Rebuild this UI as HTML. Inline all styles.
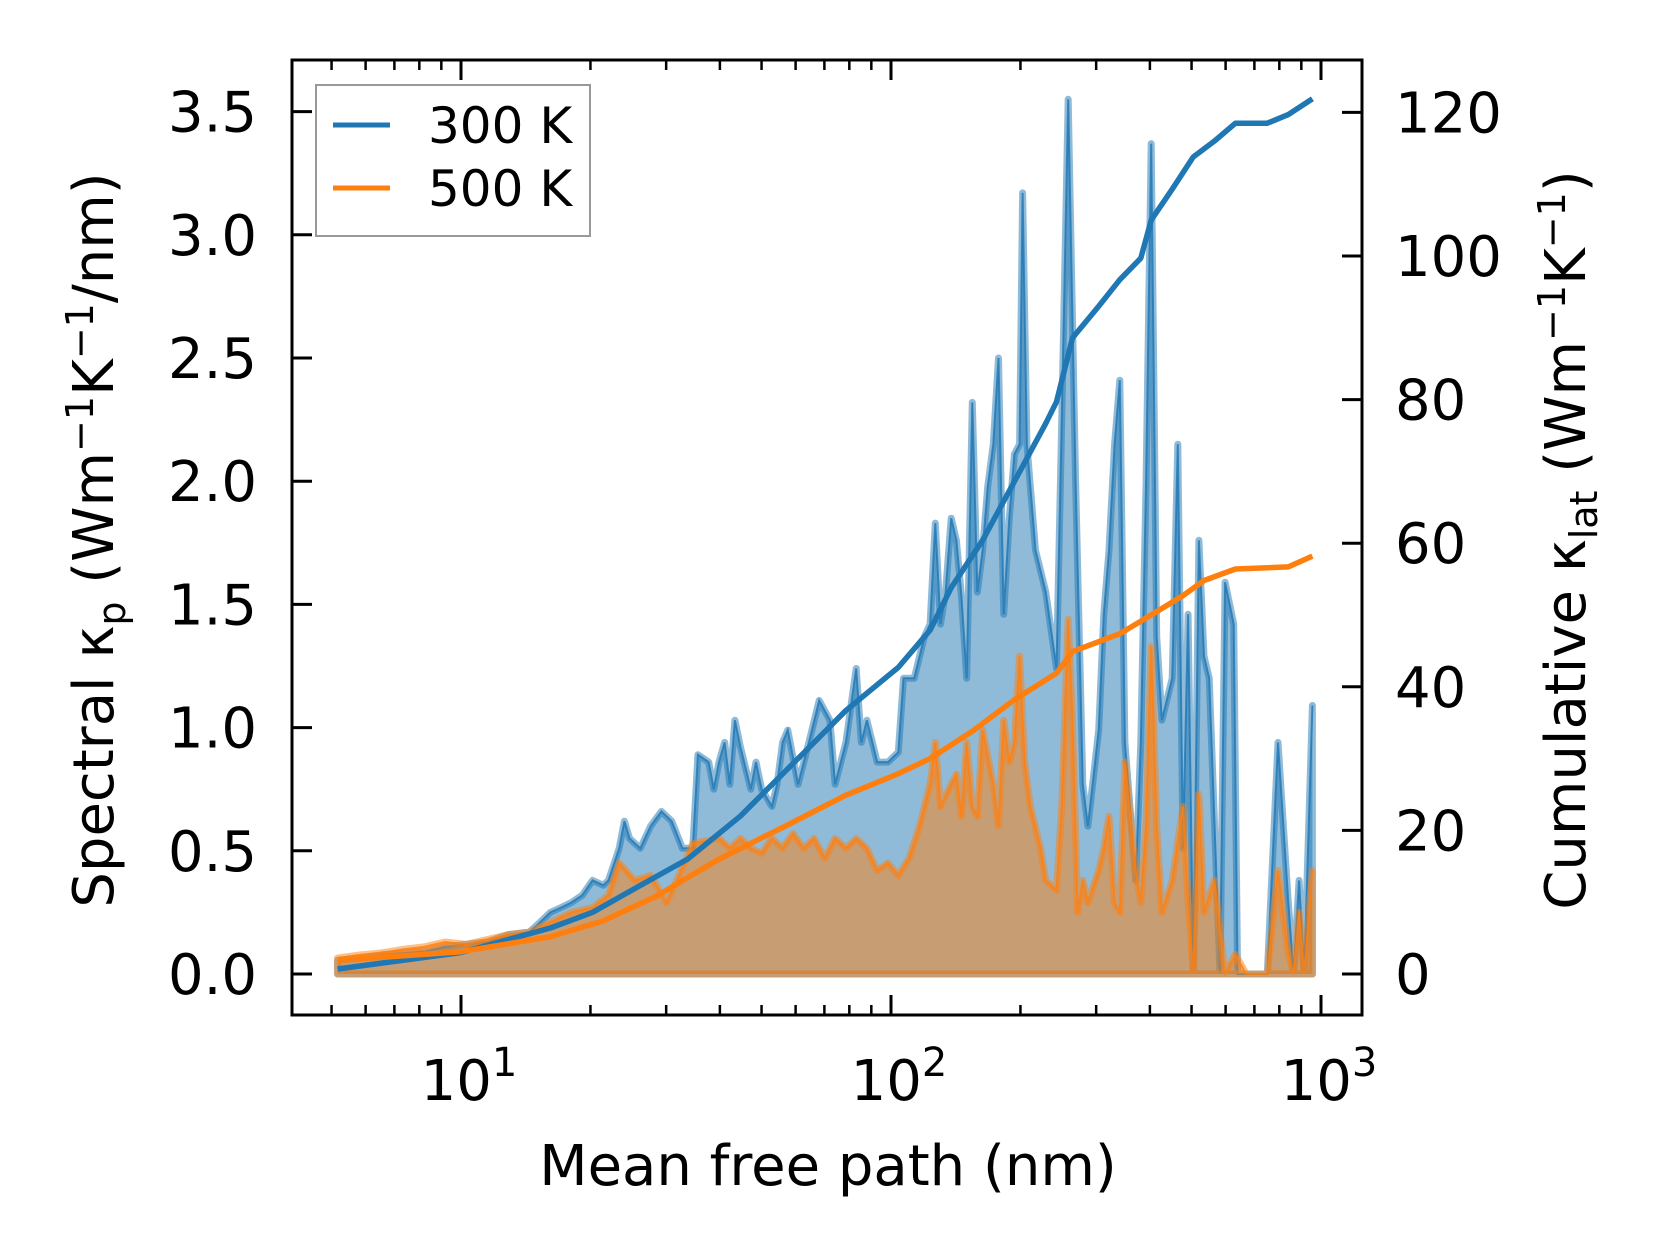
<!DOCTYPE html>
<html><head><meta charset="utf-8"><style>
html,body{margin:0;padding:0;background:#fff;}
svg text{font-family:"DejaVu Sans","Liberation Sans",sans-serif;fill:#000;}
</style></head>
<body>
<svg id="chart" width="1660" height="1254" viewBox="0 0 1660 1254" xmlns="http://www.w3.org/2000/svg">
<g id="plot"></g>
<g id="axes"></g>
<text x="828" y="1185" font-size="56" text-anchor="middle">Mean free path (nm)</text>
<text transform="translate(113,540) rotate(-90)" font-size="56" text-anchor="middle">Spectral κ<tspan font-size="38" dy="12">p</tspan><tspan dy="-12"> (Wm</tspan><tspan font-size="38" dy="-20">−1</tspan><tspan dy="20">K</tspan><tspan font-size="38" dy="-20">−1</tspan><tspan dy="20">/nm)</tspan></text>
<text transform="translate(1585,540) rotate(-90)" font-size="56" text-anchor="middle">Cumulative κ<tspan font-size="38" dy="12">lat</tspan><tspan dy="-12"> (Wm</tspan><tspan font-size="38" dy="-20">−1</tspan><tspan dy="20">K</tspan><tspan font-size="38" dy="-20">−1</tspan><tspan dy="20">)</tspan></text>
<g>
<rect x="316" y="85" width="274" height="151" fill="#fff" stroke="#999" stroke-width="2"/>
<line x1="333" y1="125" x2="390" y2="125" stroke="#1f77b4" stroke-width="5"/>
<text x="428" y="143" font-size="50">300 K</text>
<line x1="333" y1="188" x2="390" y2="188" stroke="#ff7f0e" stroke-width="5"/>
<text x="428" y="206" font-size="50">500 K</text>
</g>
</svg>
<script>
// ---- data (log10 of mean free path in nm; spectral in W/mK/nm; cumulative in W/mK) ----
const blueLogMfp = [0.713,0.767,0.816,0.865,0.914,0.963,1.012,1.061,1.110,1.159,
1.184,1.208,1.233,1.257,1.282,1.306,1.331,1.343,1.368,1.380,
1.392,1.417,1.441,1.466,1.490,1.515,1.539,1.551,1.576,1.588,
1.600,1.613,1.625,1.637,1.650,1.674,1.686,1.699,1.723,1.735,
1.748,1.760,1.784,1.809,1.833,1.858,1.870,1.895,1.919,1.931,
1.944,1.968,1.993,2.017,2.029,2.054,2.078,2.091,2.103,2.115,
2.127,2.140,2.152,2.164,2.176,2.189,2.201,2.213,2.225,2.238,
2.250,2.262,2.275,2.287,2.299,2.306,2.316,2.336,2.360,2.385,
2.397,2.412,2.429,2.446,2.458,2.483,2.495,2.507,2.520,2.532,
2.544,2.569,2.581,2.593,2.605,2.618,2.630,2.654,2.667,2.679,
2.691,2.703,2.716,2.728,2.740,2.765,2.777,2.797,2.806,2.826,
2.875,2.900,2.924,2.936,2.949,2.961,2.980];
const blueSpectral = [0.056,0.065,0.078,0.085,0.09,0.11,0.12,0.13,0.16,0.17,
0.21,0.25,0.27,0.29,0.32,0.38,0.36,0.38,0.51,0.62,
0.55,0.51,0.60,0.66,0.62,0.51,0.51,0.89,0.86,0.75,
0.86,0.94,0.77,1.03,0.92,0.75,0.86,0.75,0.68,0.77,
0.94,0.99,0.77,0.94,1.11,1.03,0.77,0.94,1.24,0.94,
1.03,0.86,0.86,0.90,1.20,1.20,1.37,1.42,1.83,1.42,
1.55,1.85,1.76,1.53,1.20,2.32,1.55,1.72,1.98,2.15,
2.50,1.46,1.85,2.11,2.15,3.17,2.15,1.72,1.55,1.24,
2.24,3.55,2.02,0.77,0.60,0.99,1.46,1.72,2.15,2.41,
0.94,0.38,0.94,1.98,3.37,1.37,1.03,1.20,2.15,0.51,
1.46,0,1.76,1.29,1.20,0,1.59,1.42,0,0,
0,0.94,0.29,0,0.38,0,1.09];
const orangeLogMfp = [0.713,0.767,0.816,0.865,0.914,0.963,1.012,1.061,1.110,1.159,
1.208,1.257,1.306,1.343,1.368,1.404,1.441,1.478,1.502,1.539,
1.600,1.625,1.650,1.674,1.699,1.723,1.748,1.772,1.797,1.821,
1.846,1.870,1.895,1.919,1.944,1.968,1.993,2.017,2.042,2.066,
2.091,2.103,2.115,2.140,2.152,2.164,2.176,2.189,2.201,2.213,
2.238,2.250,2.262,2.275,2.287,2.299,2.311,2.324,2.348,2.360,
2.385,2.397,2.412,2.422,2.434,2.446,2.458,2.483,2.495,2.507,
2.520,2.532,2.544,2.569,2.581,2.593,2.605,2.618,2.630,2.654,
2.679,2.691,2.703,2.716,2.728,2.752,2.777,2.801,2.826,2.875,
2.900,2.924,2.936,2.949,2.961,2.980];
const orangeSpectral = [0.065,0.078,0.086,0.10,0.11,0.13,0.12,0.14,0.16,0.17,
0.21,0.25,0.27,0.32,0.45,0.38,0.40,0.29,0.38,0.53,
0.55,0.51,0.55,0.51,0.49,0.55,0.51,0.57,0.51,0.55,
0.47,0.55,0.51,0.55,0.51,0.42,0.45,0.40,0.47,0.60,
0.77,0.94,0.68,0.77,0.81,0.64,0.94,0.68,0.64,0.99,
0.77,0.60,1.03,0.86,0.94,1.29,0.86,0.68,0.51,0.38,
0.34,0.68,1.44,1.03,0.25,0.38,0.29,0.42,0.51,0.64,
0.29,0.25,0.86,0.42,0.29,0.60,1.33,0.60,0.25,0.38,
0.68,0.29,0,0.73,0.25,0.38,0,0.08,0,0,
0.42,0.08,0,0.25,0,0.42];
const cum300LogMfp = [0.713,1.0,1.208,1.306,1.404,1.527,1.650,1.797,1.895,2.017,2.091,2.140,2.213,2.287,2.360,2.385,2.422,2.483,2.532,2.581,2.605,2.654,2.703,2.752,2.801,2.875,2.924,2.980];
const cum300 = [0.7,3,6.4,8.6,11.9,16,22,30.8,36.7,42.7,47.9,53.8,60.4,68.6,76.7,79.7,88.6,93,96.7,99.7,105,109.3,113.8,116,118.5,118.5,119.7,121.9];
const cum500LogMfp = [0.713,1.0,1.208,1.331,1.453,1.600,1.748,1.895,2.017,2.091,2.189,2.287,2.385,2.422,2.532,2.605,2.679,2.728,2.801,2.924,2.980];
const cum500 = [1.9,3.1,5.2,7.4,10.8,16,20.4,24.9,27.9,30,33.8,38.2,41.9,44.9,47.4,50,52.7,54.8,56.4,56.7,58.2];
const leftTicks = [0,0.5,1.0,1.5,2.0,2.5,3.0,3.5];
const rightTicks = [0,20,40,60,80,100,120];
const xDecades = [1,2,3];

// ---- scales ----
const L=292,R=1362,T=60,B=1015;
const xS = lg => 461 + (lg-1)*430;
const yL = v => 974 - v*246.4;
const yR = v => 974 - v*7.18;
const NS="http://www.w3.org/2000/svg";
const plot=document.getElementById('plot'), axes=document.getElementById('axes');
function mk(tag,attrs,parent){const e=document.createElementNS(NS,tag);for(const k in attrs)e.setAttribute(k,attrs[k]);parent.appendChild(e);return e;}

function spectral(lx,vals,color,name){
  let d='M'+xS(lx[0])+','+yL(0);
  lx.forEach((l,i)=>{d+=' L'+xS(l).toFixed(1)+','+yL(vals[i]).toFixed(1);});
  d+=' L'+xS(lx[lx.length-1])+','+yL(0)+' Z';
  const f=mk('path',{d:d,fill:color,'fill-opacity':0.5,stroke:color,'stroke-opacity':0.5,'stroke-width':7,'stroke-linejoin':'round'},plot);
  
  
  let d2='';
  lx.forEach((l,i)=>{d2+=(i?' L':'M')+xS(l).toFixed(1)+','+yL(vals[i]).toFixed(1);});
  const ln=mk('path',{d:d2,fill:'none',stroke:color,'stroke-opacity':0.8,'stroke-width':2},plot);
  
  
}
spectral(blueLogMfp,blueSpectral,'#1f77b4','300k');
spectral(orangeLogMfp,orangeSpectral,'#ff7f0e','500k');

function cum(lx,vals,color,name){
  let d='';
  lx.forEach((l,i)=>{d+=(i?' L':'M')+xS(l).toFixed(1)+','+yR(vals[i]).toFixed(1);});
  const p=mk('path',{d:d,fill:'none',stroke:color,'stroke-width':5.5,'stroke-linejoin':'round'},plot);
  
  
}
cum(cum300LogMfp,cum300,'#1f77b4','300k');
cum(cum500LogMfp,cum500,'#ff7f0e','500k');

// ---- axes ----
const frame=mk('rect',{x:L,y:T,width:R-L,height:B-T,fill:'none',stroke:'#000',"stroke-width":3},axes);


for(let dec=0;dec<=2;dec++){
  for(let m=2;m<=9;m++){
    const lg=dec+Math.log10(m); const x=xS(lg);
    if(x<L||x>R) continue;
    mk('line',{x1:x,y1:B,x2:x,y2:B-10,stroke:'#000','stroke-width':2.5},axes);
    mk('line',{x1:x,y1:T,x2:x,y2:T+10,stroke:'#000','stroke-width':2.5},axes);
  }
}
xDecades.forEach(p=>{
  const x=xS(p);
  mk('line',{x1:x,y1:B,x2:x,y2:B-20,stroke:'#000','stroke-width':3},axes);
  mk('line',{x1:x,y1:T,x2:x,y2:T+20,stroke:'#000','stroke-width':3},axes);
  const t=mk('text',{x:x+8,y:1100,'font-size':56,'text-anchor':'middle'},axes);
  
  
  t.textContent='10';
  const s=mk('tspan',{'font-size':40,dy:-24},t); s.textContent=String(p);
});
leftTicks.forEach(v=>{
  const y=yL(v);
  mk('line',{x1:L,y1:y,x2:L+20,y2:y,stroke:'#000','stroke-width':3},axes);
  const t=mk('text',{x:257,y:y+20,'font-size':56,'text-anchor':'end'},axes);
  
  
  t.textContent=v.toFixed(1);
});
rightTicks.forEach(v=>{
  const y=yR(v);
  mk('line',{x1:R,y1:y,x2:R-20,y2:y,stroke:'#000','stroke-width':3},axes);
  const t=mk('text',{x:1395,y:y+20,'font-size':56,'text-anchor':'start'},axes);
  
  
  t.textContent=String(v);
});
</script>
</body></html>
